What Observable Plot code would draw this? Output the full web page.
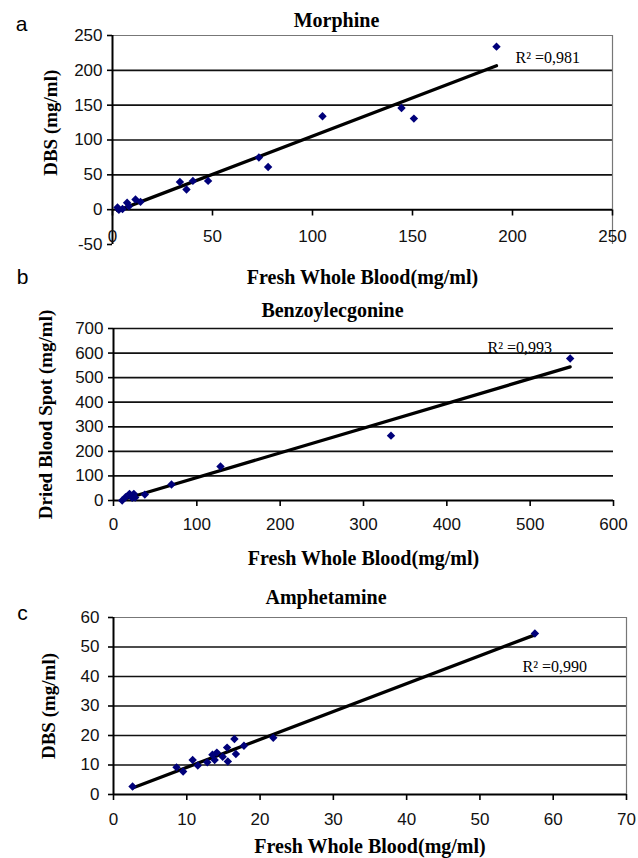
<!DOCTYPE html>
<html>
<head>
<meta charset="utf-8">
<script src="https://cdn.jsdelivr.net/npm/d3@7"></script>
<script src="https://cdn.jsdelivr.net/npm/@observablehq/plot@0.6"></script>
<style>
  body { margin: 0; background: #fff; }
  #wrap { position: relative; width: 638px; height: 858px; overflow: hidden; background: #fff; }
  #wrap svg { position: absolute; left: 0; }
</style>
</head>
<body>
<div id="wrap"></div>
<script>
// ---- Text ----
const panelLetters = ["a", "b", "c"];
const titles = ["Morphine", "Benzoylecgonine", "Amphetamine"];
const xLabel = "Fresh Whole Blood(mg/ml)";
const yLabels = ["DBS (mg/ml)", "Dried Blood Spot (mg/ml)", "DBS (mg/ml)"];
const r2Labels = ["R\u00B2 =0,981", "R\u00B2 =0,993", "R\u00B2 =0,990"];

// ---- Data ----
const morphineFWB = [2.5, 3.2, 5, 7.3, 8.2, 11.5, 14, 33.7, 37, 40.2, 47.8, 73.2, 77.8, 105, 144.5, 150.7, 192];
const morphineDBS = [3, 0, 1, 9.8, 5, 14.6, 11.2, 39.8, 29, 41.3, 41.3, 74.8, 61.3, 134, 146, 130.7, 234];

const benzoFWB = [10.4, 14.4, 19.2, 22.4, 24.4, 26, 37.6, 69.6, 128.4, 333, 548];
const benzoDBS = [0, 13.4, 27, 11, 27, 12, 24, 65, 138, 264, 578];

const amphFWB = [2.6, 8.6, 9.5, 10.8, 11.5, 12.8, 13.5, 14.1, 13.8, 14.9, 15.5, 15.6, 16.5, 16.7, 17.8, 21.8, 57.5];
const amphDBS = [2.7, 9.2, 7.8, 11.7, 9.8, 10.9, 13.5, 14.2, 11.7, 12.8, 15.9, 11.2, 18.8, 13.7, 16.5, 19.2, 54.6];

// ---- Tick labels ----
const morphineXTicks = [0, 50, 100, 150, 200, 250];
const morphineYTicks = [-50, 0, 50, 100, 150, 200, 250];
const benzoXTicks = [0, 100, 200, 300, 400, 500, 600];
const benzoYTicks = [0, 100, 200, 300, 400, 500, 600, 700];
const amphXTicks = [0, 10, 20, 30, 40, 50, 60, 70];
const amphYTicks = [0, 10, 20, 30, 40, 50, 60];

const toRows = (xs, ys) => xs.map((x, i) => ({x, y: ys[i]}));

// ---- Layout (styles / positions) ----
const layouts = [
  {top: 0, height: 295, mL: 112, mR: 26, mT: 35, mB: 85.5, yRange: [244, 35], frame: true,
   xPad: 14, yPad: 5, title: [-26, -15], letter: [-91, -11], yLab: -62, xLab: 67.5, r2: [-97, 22]},
  {top: 262, height: 305, mL: 113, mR: 25, mT: 66, mB: 67, yRange: null, frame: false,
   xPad: 11, yPad: 5, title: [-31, -18], letter: [-91, -51], yLab: -68, xLab: 58, r2: [-126, 19]},
  {top: 567, height: 291, mL: 113, mR: 12, mT: 50, mB: 64, yRange: null, frame: true,
   xPad: 12, yPad: 9, title: [-44, -20], letter: [-91, -4], yLab: -65, xLab: 52, r2: [-104, 49]}
];

const panels = [
  {rows: toRows(morphineFWB, morphineDBS), xTicks: morphineXTicks, yTicks: morphineYTicks},
  {rows: toRows(benzoFWB, benzoDBS), xTicks: benzoXTicks, yTicks: benzoYTicks},
  {rows: toRows(amphFWB, amphDBS), xTicks: amphXTicks, yTicks: amphYTicks}
];

const serif = "Liberation Serif, Times New Roman, serif";
const sans = "Liberation Sans, Arial, sans-serif";
const wrap = document.getElementById("wrap");

panels.forEach((p, i) => {
  const L = layouts[i];
  const xMin = p.xTicks[0], xMax = p.xTicks[p.xTicks.length - 1];
  const yMin = p.yTicks[0], yMax = p.yTicks[p.yTicks.length - 1];
  const grid = p.yTicks.filter(v => v > 0 && (L.frame ? v < yMax : true));
  const marks = [
    Plot.ruleY(grid, {stroke: "#111", strokeWidth: 1.7}),
  ];
  if (L.frame) {
    marks.push(Plot.ruleY([yMax], {stroke: "#777", strokeWidth: 1.2}));
    marks.push(Plot.ruleX([xMax], {y1: yMin, y2: yMax, stroke: "#777", strokeWidth: 1.2}));
  }
  marks.push(
    Plot.ruleY([0], {stroke: "#000", strokeWidth: 2}),
    Plot.ruleX([0], {y1: yMin, y2: yMax, stroke: "#000", strokeWidth: 2}),
    Plot.axisX({ticks: p.xTicks, anchor: "bottom", tickSize: 6, tickPadding: L.xPad, fontSize: 17,
                strokeWidth: 1.6, label: null, tickFormat: d => `${d}`, fill: "#111"}),
    Plot.axisY({ticks: p.yTicks, anchor: "left", tickSize: 5, tickPadding: L.yPad, fontSize: 17,
                strokeWidth: 1.6, label: null, tickFormat: d => `${d}`, fill: "#111"}),
    Plot.linearRegressionY(p.rows, {x: "x", y: "y", ci: 0, stroke: "#000", strokeWidth: 3.3}),
    Plot.dot(p.rows, {x: "x", y: "y", symbol: "diamond2", r: 3.8, fill: "#00007a", stroke: "none"}),
    Plot.text([titles[i]], {text: d => d, frameAnchor: "top", dx: L.title[0], dy: L.title[1],
      textAnchor: "middle", lineAnchor: "middle", fontFamily: serif, fontWeight: "bold", fontSize: 20, fill: "#000"}),
    Plot.text([panelLetters[i]], {text: d => d, frameAnchor: "top-left", dx: L.letter[0], dy: L.letter[1],
      textAnchor: "middle", lineAnchor: "middle", fontFamily: sans, fontSize: 21, fill: "#000"}),
    Plot.text([yLabels[i]], {text: d => d, frameAnchor: "left", dx: L.yLab, rotate: -90,
      textAnchor: "middle", lineAnchor: "middle", fontFamily: serif, fontWeight: "bold", fontSize: 19, fill: "#000"}),
    Plot.text([xLabel], {text: d => d, frameAnchor: "bottom", dy: L.xLab,
      textAnchor: "middle", lineAnchor: "middle", fontFamily: serif, fontWeight: "bold", fontSize: 20, fill: "#000"}),
    Plot.text([r2Labels[i]], {text: d => d, frameAnchor: "top-right", dx: L.r2[0], dy: L.r2[1],
      textAnchor: "start", lineAnchor: "middle", fontFamily: serif, fontSize: 16, fill: "#000"})
  );
  const yScale = {domain: [yMin, yMax]};
  if (L.yRange) yScale.range = L.yRange;
  const chart = Plot.plot({
    width: 638,
    height: L.height,
    marginLeft: L.mL, marginRight: L.mR, marginTop: L.mT, marginBottom: L.mB,
    x: {domain: [xMin, xMax]},
    y: yScale,
    style: {background: "transparent", overflow: "visible", fontFamily: sans, fontSize: "17px", color: "#000"},
    marks
  });
  chart.style.top = L.top + "px";
  wrap.appendChild(chart);
});
</script>
</body>
</html>
